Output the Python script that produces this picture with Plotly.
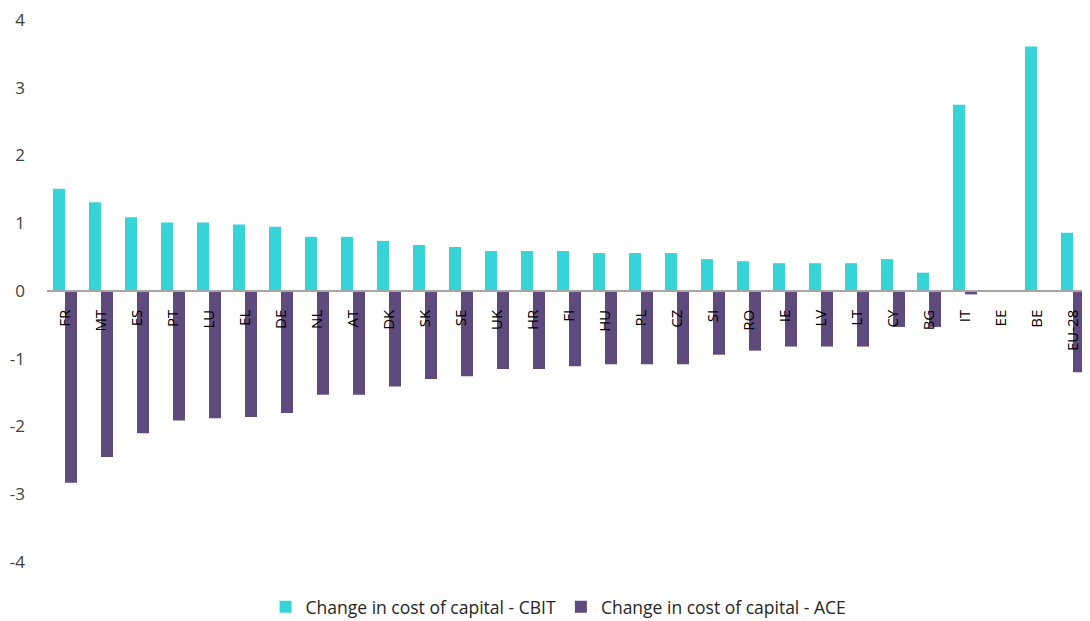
import plotly.graph_objects as go

categories = ["FR", "MT", "ES", "PT", "LU", "EL", "DE", "NL", "AT", "DK", "SK", "SE", "UK", "HR", "FI",
              "HU", "PL", "CZ", "SI", "RO", "IE", "LV", "LT", "CY", "BG", "IT", "EE", "BE", "EU-28"]
cbit = [1.51, 1.31, 1.09, 1.01, 1.01, 0.98, 0.95, 0.80, 0.80, 0.74, 0.68, 0.65, 0.59, 0.59, 0.59,
        0.56, 0.56, 0.56, 0.47, 0.44, 0.41, 0.41, 0.41, 0.47, 0.27, 2.75, 0.0, 3.61, 0.86]
ace = [-2.83, -2.45, -2.10, -1.91, -1.88, -1.86, -1.80, -1.53, -1.53, -1.41, -1.30, -1.26, -1.15, -1.15, -1.11,
       -1.08, -1.08, -1.08, -0.94, -0.88, -0.82, -0.82, -0.82, -0.53, -0.53, -0.05, 0.0, 0.0, -1.20]
y_ticks = [-4, -3, -2, -1, 0, 1, 2, 3, 4]
y_tick_labels = ["-4", "-3", "-2", "-1", "0", "1", "2", "3", "4"]

CBIT_COLOR = "#36D4D6"
ACE_COLOR = "#5E4A7C"
FONT = "Open Sans, Lato, sans-serif"

fig = go.Figure()
fig.add_trace(go.Bar(x=categories, y=cbit, name="Change in cost of capital - CBIT",
                     marker=dict(color=CBIT_COLOR, line=dict(width=0))))
fig.add_trace(go.Bar(x=categories, y=ace, name="Change in cost of capital - ACE",
                     marker=dict(color=ACE_COLOR, line=dict(width=0))))

fig.update_layout(
    width=1090, height=621,
    margin=dict(l=39, r=7, t=12, b=67, autoexpand=False),
    paper_bgcolor="white", plot_bgcolor="white",
    barmode="group", bargap=0.333, bargroupgap=0,
    font=dict(family=FONT, color="#262626"),
    showlegend=True,
    legend=dict(orientation="h", x=0.49, xanchor="center", y=-0.083, yanchor="middle",
                font=dict(size=17.5, color="#262626"), traceorder="normal"),
)
fig.update_xaxes(
    type="category", anchor="free", position=0.5, automargin=False,
    showline=True, linecolor="#A6A6A6", linewidth=1.5,
    showgrid=False, zeroline=False, ticks="", ticklabelstandoff=12,
    tickangle=-90, tickfont=dict(size=15, color="#000000"),
)
fig.update_yaxes(
    range=[-4, 4], tickvals=y_ticks, ticktext=y_tick_labels,
    showgrid=False, zeroline=False, automargin=False,
    showline=False, ticks="", ticklabelstandoff=21, ticklabeloverflow="allow",
    tickfont=dict(size=17, color="#404040"),
)

fig.write_html("out.html")
